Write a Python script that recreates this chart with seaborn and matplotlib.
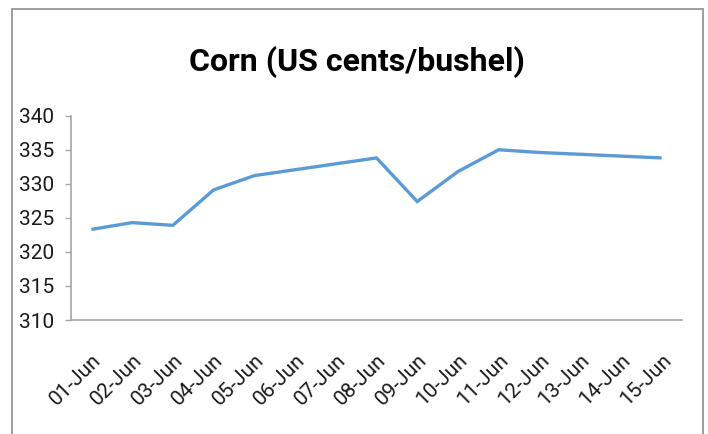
import matplotlib
matplotlib.use("Agg")
import matplotlib.pyplot as plt
import seaborn as sns
import pandas as pd
from matplotlib.patches import Rectangle

# ---- data ----
tick_days = list(range(1, 16))
tick_labels = ["01-Jun", "02-Jun", "03-Jun", "04-Jun", "05-Jun", "06-Jun", "07-Jun",
               "08-Jun", "09-Jun", "10-Jun", "11-Jun", "12-Jun", "13-Jun", "14-Jun", "15-Jun"]
obs_days = [1, 2, 3, 4, 5, 8, 9, 10, 11, 12, 15]
corn_prices = [323.3, 324.3, 323.9, 329.1, 331.2, 333.8, 327.4, 331.8, 335.0, 334.6, 333.8]
y_ticks = [310, 315, 320, 325, 330, 335, 340]
title_text = "Corn (US cents/bushel)"

df = pd.DataFrame({"day": obs_days, "price": corn_prices})

sns.set_theme(style="white")
plt.rcParams["font.family"] = ["Roboto", "DejaVu Sans"]

fig = plt.figure(figsize=(7.08, 4.34), dpi=100)
ax = fig.add_axes([71 / 708, 114 / 434, 611 / 708, 204.3 / 434])

sns.lineplot(data=df, x="day", y="price", ax=ax, color="#5B9BD5", linewidth=2.4,
             solid_joinstyle="miter", solid_capstyle="butt")

ax.set_xlim(0.5, 15.5)
ax.set_ylim(310, 340)
ax.set_yticks(y_ticks)
ax.set_yticklabels([str(v) for v in y_ticks], fontsize=15, color="#1a1a1a")
ax.set_xticks(tick_days)
ax.set_xticklabels(tick_labels, rotation=45, ha="right", va="top",
                   rotation_mode="anchor", fontsize=15, color="#1a1a1a")
ax.tick_params(axis="y", length=4, width=1, direction="out", left=True, pad=8,
               color="#A6A6A6")
ax.tick_params(axis="x", length=0, pad=22)
ax.set_xlabel("")
ax.set_ylabel("")

for s in ["top", "right"]:
    ax.spines[s].set_visible(False)
for s in ["left", "bottom"]:
    ax.spines[s].set_color("#A6A6A6")
    ax.spines[s].set_linewidth(1.2)

fig.text(357 / 708, 1 - 62 / 434, title_text, ha="center", va="center",
         fontsize=23, fontweight="bold", color="#000000")

fig.patches.append(Rectangle((12 / 708, -0.02), 691 / 708, 1.02 - 9 / 434,
                             transform=fig.transFigure, fill=False,
                             edgecolor="#8C8C8C", linewidth=1.2))

fig.savefig("out.png", dpi=100)
